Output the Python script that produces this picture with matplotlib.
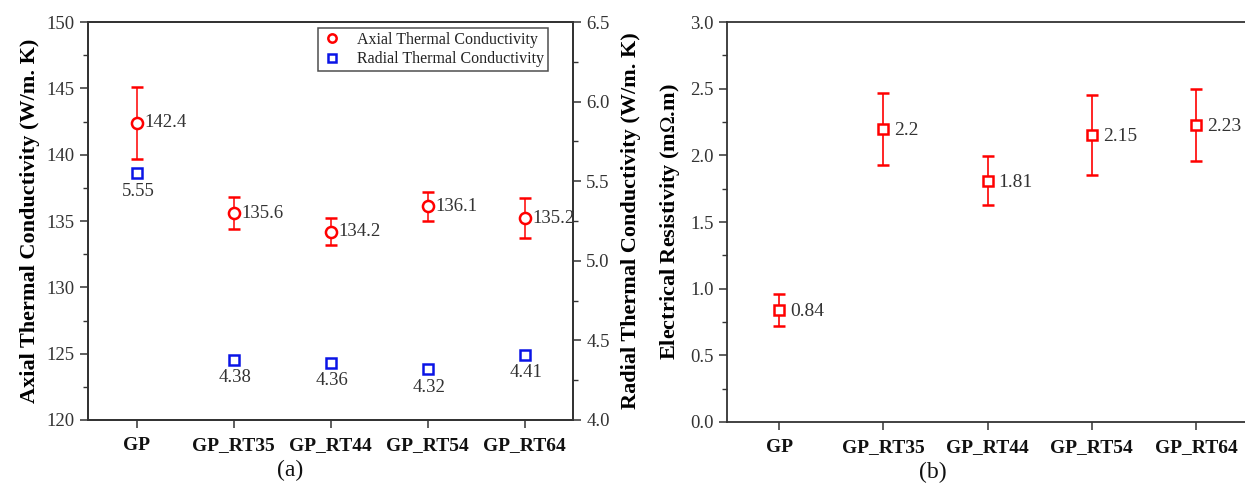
import matplotlib
matplotlib.use("Agg")
import matplotlib.pyplot as plt
from matplotlib.lines import Line2D
from matplotlib.ticker import MultipleLocator, FormatStrFormatter

plt.rcParams["font.family"] = ["Liberation Serif", "DejaVu Serif"]
plt.rcParams["mathtext.fontset"] = "stix"

samples = ["GP", "GP_RT35", "GP_RT44", "GP_RT54", "GP_RT64"]

# thermal conductivity, W/m.K
axial_k = [142.4, 135.6, 134.2, 136.1, 135.2]
axial_err = [2.7, 1.2, 1.0, 1.1, 1.5]
radial_k = [5.55, 4.38, 4.36, 4.32, 4.41]
radial_err = [0.015, 0.015, 0.015, 0.015, 0.01]

# electrical resistivity, mOhm.m
resist = [0.84, 2.2, 1.81, 2.15, 2.23]
resist_err = [0.12, 0.27, 0.185, 0.30, 0.27]

RED = "#ff0000"
BLUE = "#0a14e6"
TXT = "#333333"
SPINE = "#333333"

fig = plt.figure(figsize=(12.45, 4.9), dpi=100)
ax1 = fig.add_axes([0.0707, 0.1429, 0.3896, 0.812])
ax2 = ax1.twinx()
ax3 = fig.add_axes([0.584, 0.1388, 0.4185, 0.816])

x = list(range(len(samples)))


def style_axis(ax):
    for s in ax.spines.values():
        s.set_color(SPINE)
        s.set_linewidth(1.3)
    ax.tick_params(which="major", direction="out", length=6, width=1.1,
                   color=SPINE, labelcolor=TXT, labelsize=13.5)
    ax.tick_params(which="minor", direction="out", length=3.5, width=1.0, color=SPINE)
    ax.tick_params(axis="x", which="both", top=False)
    ax.tick_params(axis="x", labelsize=14, labelcolor="#111111", pad=6)


# (a) axial / radial thermal conductivity
ax1.errorbar(x, axial_k, yerr=axial_err, fmt="o", color=RED, mfc="white",
             mec=RED, ms=8, mew=1.8, elinewidth=1.1, capsize=4, capthick=1.1,
             zorder=3)
ax2.errorbar(x, radial_k, yerr=radial_err, fmt="s", color=BLUE, mfc="white",
             mec=BLUE, ms=7, mew=1.8, elinewidth=0.8, capsize=2, capthick=0.8,
             zorder=3)
for xi, v in zip(x, axial_k):
    ax1.annotate(f"{v}", (xi, v), xytext=(6, 0), textcoords="offset points",
                 va="center", ha="left", fontsize=13.5, color=TXT)
for xi, v in zip(x, radial_k):
    ax2.annotate(f"{v}", (xi, v), xytext=(1, -7), textcoords="offset points",
                 va="top", ha="center", fontsize=13.5, color=TXT)

ax1.set_xlim(-0.5, 4.5)
ax1.set_ylim(120, 150)
ax2.set_ylim(4.0, 6.5)
ax1.set_xticks(x)
ax1.set_xticklabels(samples, fontweight="bold")
ax1.yaxis.set_major_locator(MultipleLocator(5))
ax1.yaxis.set_minor_locator(MultipleLocator(2.5))
ax2.yaxis.set_major_locator(MultipleLocator(0.5))
ax2.yaxis.set_minor_locator(MultipleLocator(0.25))
ax2.yaxis.set_major_formatter(FormatStrFormatter("%.1f"))
for ax in (ax1, ax2):
    style_axis(ax)
ax1.set_ylabel("Axial Thermal Conductivity (W/m. K)", fontsize=16,
               fontweight="bold", labelpad=5)
ax2.set_ylabel("Radial Thermal Conductivity (W/m. K)", fontsize=16,
               fontweight="bold", labelpad=8)

handles = [
    Line2D([], [], ls="none", marker="o", ms=6, mfc="white", mec=RED, mew=1.8),
    Line2D([], [], ls="none", marker="s", ms=6, mfc="white", mec=BLUE, mew=1.8),
]
leg = ax1.legend(handles, ["Axial Thermal Conductivity", "Radial Thermal Conductivity"],
                 loc="upper right", bbox_to_anchor=(0.948, 0.985), borderaxespad=0,
                 fontsize=11.5, frameon=True, fancybox=False, edgecolor="#222222",
                 handletextpad=0.9, borderpad=0.25, labelspacing=0.2,
                 handlelength=1.3)
leg.get_frame().set_linewidth(1.1)
for t in leg.get_texts():
    t.set_color("#222222")
fig.text(0.233, 0.04, "(a)", fontsize=17, ha="center", va="center", color="#111111")

# (b) electrical resistivity
ax3.errorbar(x, resist, yerr=resist_err, fmt="s", color=RED, mfc="white",
             mec=RED, ms=7, mew=1.8, elinewidth=1.2, capsize=4, capthick=1.2,
             zorder=3)
for xi, v in zip(x, resist):
    ax3.annotate(f"{v}", (xi, v), xytext=(8, -1), textcoords="offset points",
                 va="center", ha="left", fontsize=14, color=TXT)
ax3.set_xlim(-0.5, 4.5)
ax3.set_ylim(0, 3.0)
ax3.set_xticks(x)
ax3.set_xticklabels(samples, fontweight="bold")
ax3.yaxis.set_major_locator(MultipleLocator(0.5))
ax3.yaxis.set_minor_locator(MultipleLocator(0.25))
ax3.yaxis.set_major_formatter(FormatStrFormatter("%.1f"))
style_axis(ax3)
ax3.set_ylabel("Electrical Resistivity (m$\\Omega$.m)", fontsize=16,
               fontweight="bold", labelpad=6)
fig.text(0.749, 0.035, "(b)", fontsize=17, ha="center", va="center", color="#111111")

fig.savefig("out.png", dpi=100)
